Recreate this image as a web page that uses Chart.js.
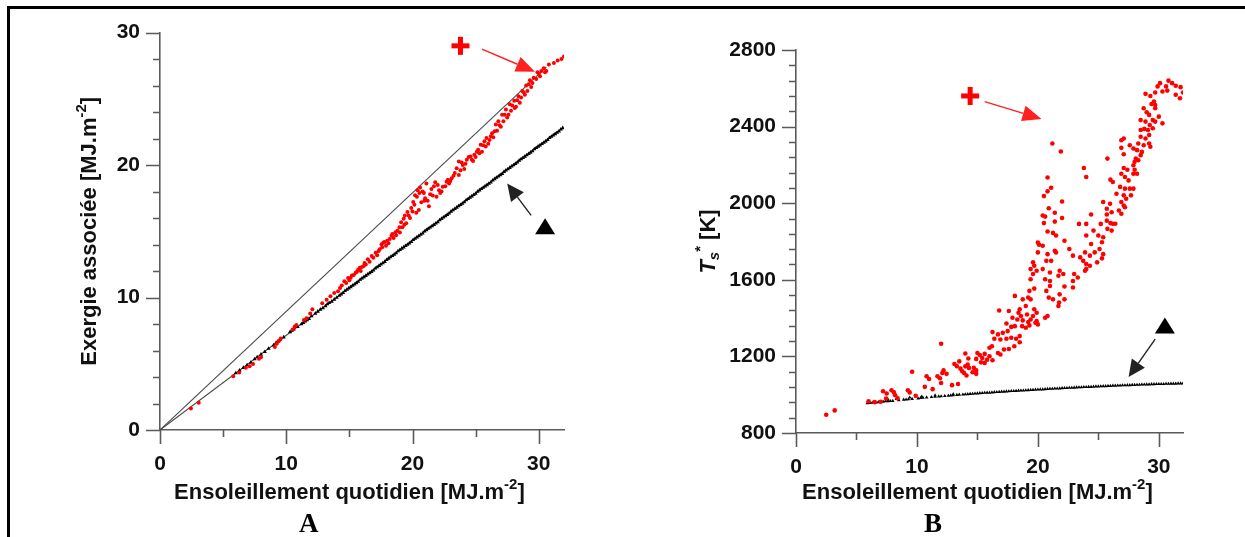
<!DOCTYPE html>
<html>
<head>
<meta charset="utf-8">
<script src="https://cdn.jsdelivr.net/npm/chart.js@4.4.0/dist/chart.umd.min.js"></script>
<style>
  html, body { margin: 0; padding: 0; background: #fff; }
  body { width: 1245px; height: 537px; position: relative; overflow: hidden; }
  #frame { position: absolute; left: 7px; top: 6px; width: 1250px; height: 540px;
           border-top: 3px solid #000; border-left: 3px solid #000; }
  .panel { position: absolute; top: 0; height: 537px; }
  #panelA { left: 0; width: 620px; }
  #panelB { left: 620px; width: 625px; }
  .letter { position: absolute; top: 508px; font: bold 27px "Liberation Serif", "Times New Roman", serif; color: #000; }
</style>
</head>
<body>
<div id="frame"></div>
<div class="panel" id="panelA"><canvas id="chartA"></canvas></div>
<div class="panel" id="panelB"><canvas id="chartB"></canvas></div>
<div class="letter" style="left:299px">A</div>
<div class="letter" style="left:924px">B</div>
<script>
// Panel A : associated exergy vs daily insolation
var exergyRed = [
    [2.45,1.63],[3.07,2.06],[5.8,4.05],[6.27,4.35],[6.8,4.69],[7.1,4.81],[7.37,4.99],[7.84,5.37],
    [8.0,5.5],[9.1,6.26],[9.25,6.52],[9.4,6.7],[9.56,6.9],[10.5,7.59],[10.66,7.79],[10.8,7.92],
    [11.4,8.3],[11.6,8.43],[11.9,8.8],[12.07,9.12],[12.85,9.57],[13.2,9.83],[13.5,10.1],[13.8,10.34],
    [14.1,10.47],[14.26,10.72],[14.6,11.23],[14.9,11.48],[15.0,11.3],[15.2,11.66],[15.5,11.87],
    [15.7,12.12],[15.83,12.25],[15.9,12.0],[16.14,12.38],[16.3,12.5],[16.46,12.89],[16.6,12.7],
    [16.77,13.14],[17.08,13.39],[17.2,13.2],[17.4,13.65],[17.55,14.03],[17.7,14.16],[17.9,13.9],
    [18.0,14.29],[18.2,14.41],[18.34,14.67],[18.5,14.5],[18.65,14.92],[18.8,15.05],[18.97,15.3],
    [19.0,14.9],[19.1,15.69],[19.3,15.94],[19.4,16.2],[19.5,15.6],[19.6,16.45],[19.8,16.0],
    [19.9,16.76],[20.06,17.21],[20.2,17.72],[20.3,16.4],[20.4,18.1],[20.5,16.6],[20.6,18.3],
    [20.7,17.2],[20.9,17.9],[21.0,17.5],[21.1,18.6],[21.2,17.3],[21.3,16.9],[21.5,18.2],[21.6,17.7],
    [21.8,18.7],[21.9,17.6],[22.1,18.1],[22.3,18.0],[22.4,18.36],[22.7,18.74],[22.9,18.6],[23.1,19.0],
    [23.35,19.4],[23.5,19.76],[23.67,20.27],[23.67,19.25],[23.98,20.0],[24.1,19.7],[24.3,20.4],
    [24.6,20.65],[24.8,20.3],[24.9,20.78],[25.2,21.16],[25.4,21.54],[25.5,21.0],[25.7,21.8],
    [25.86,22.05],[26.0,21.6],[26.2,22.18],[26.4,22.1],[26.5,22.56],[26.6,23.07],[26.8,23.3],
    [27.0,22.9],[27.1,23.8],[27.4,24.2],[27.6,23.8],[27.7,24.6],[28.06,24.85],[28.2,24.4],
    [28.4,25.2],[28.7,25.6],[28.9,25.3],[29.0,26.0],[29.3,26.4],[29.4,25.9],[29.6,26.6],
    [29.9,27.0],[30.1,26.7],[30.4,27.3],[30.6,27.1],[30.8,27.6],[31.2,27.7],[31.5,27.9],
    [31.8,28.0],[32.0,28.2],
    [14.4,10.9],[14.75,11.1],[15.1,11.5],[15.35,11.7],[15.6,11.95],[16.0,12.3],[16.2,12.6],
    [16.9,13.0],[17.3,13.5],[17.6,13.8],[17.8,14.2],[18.1,14.1],[18.4,14.8],[18.7,14.7],
    [19.2,15.3],[19.35,15.5],[19.7,16.2],[20.0,16.5],[20.15,17.0],[20.35,17.6],[20.55,17.9],
    [20.8,18.0],[20.95,17.3],[21.4,17.8],[21.7,18.4],[22.0,18.5],[22.2,17.9],[22.6,18.4],
    [22.8,18.9],[23.0,18.8],[23.25,19.2],[23.8,19.6],[23.9,20.2],[24.2,20.1],[24.45,20.6],
    [24.7,20.4],[25.0,20.6],[25.1,21.0],[25.3,20.9],[25.6,21.5],[25.8,21.4],[26.1,21.9],
    [26.3,22.4],[26.7,22.6],[26.9,23.0],[27.2,23.3],[27.3,23.8],[27.5,23.6],[27.8,24.1],
    [27.9,24.5],[28.1,24.3],[28.3,24.9],[28.5,24.7],[28.6,25.1],[28.8,25.5],[29.1,25.6],
    [29.2,26.1],[29.5,26.2],[29.8,26.5],[30.0,26.9],[30.2,27.1],[30.5,27.0]
];
var exergyBlack = [
    [6.0,4.3],[6.3,4.5],[6.6,4.7],[6.9,4.9],[7.2,5.1],[7.5,5.35],[7.7,5.5],[8.0,5.7],[8.3,5.9],
    [8.6,6.15],[9.0,6.4],[9.2,6.6],[9.35,6.7],[9.5,6.8],[9.8,7.0],[10.3,7.4],[10.45,7.5],[10.6,7.6],
    [10.9,7.8],[11.2,8.0],[11.35,8.1],[11.5,8.2],[11.65,8.3],[11.8,8.4],[12.0,8.6],[12.3,8.8],
    [12.5,8.95],[12.7,9.1],[12.9,9.2],[13.1,9.35],[13.25,9.5],[13.4,9.6],[13.6,9.7],[13.8,9.85],
    [14.0,10.0],[14.2,10.15],[14.35,10.25],[14.5,10.35],[14.65,10.5],[14.8,10.6],[14.95,10.7],
    [15.1,10.8],[15.25,10.9],[15.4,11.0],[15.55,11.1],[15.7,11.2],[15.85,11.35],[16.0,11.45],
    [16.15,11.55],[16.3,11.65],[16.45,11.75],[16.6,11.85],[16.75,11.95],[16.9,12.05],[17.05,12.2],
    [17.2,12.3],[17.35,12.4],[17.5,12.5],[17.65,12.6],[17.8,12.7],[17.95,12.85],[18.1,12.95],
    [18.25,13.05],[18.4,13.15],[18.55,13.25],[18.7,13.35],[18.85,13.5],[19.0,13.6],[19.15,13.7],
    [19.3,13.8],[19.45,13.9],[19.6,14.0],[19.75,14.1],[19.9,14.2],[20.05,14.35],[20.2,14.45],
    [20.35,14.55],[20.5,14.65],[20.65,14.75],[20.8,14.85],[20.95,15.0],[21.1,15.1],[21.25,15.2],
    [21.4,15.3],[21.55,15.4],[21.7,15.5],[21.85,15.6],[22.0,15.7],[22.15,15.85],[22.3,15.95],
    [22.45,16.05],[22.6,16.15],[22.75,16.25],[22.9,16.35],[23.05,16.5],[23.2,16.6],[23.35,16.7],
    [23.5,16.8],[23.65,16.9],[23.8,17.0],[23.95,17.1],[24.1,17.2],[24.25,17.35],[24.4,17.45],
    [24.55,17.55],[24.7,17.65],[24.85,17.75],[25.0,17.85],[25.15,18.0],[25.3,18.1],[25.45,18.2],
    [25.6,18.3],[25.75,18.4],[25.9,18.5],[26.05,18.6],[26.2,18.7],[26.35,18.85],[26.5,18.95],
    [26.65,19.05],[26.8,19.15],[26.95,19.25],[27.1,19.35],[27.25,19.5],[27.4,19.6],[27.55,19.7],
    [27.7,19.8],[27.85,19.9],[28.0,20.0],[28.15,20.1],[28.3,20.2],[28.45,20.35],[28.6,20.45],
    [28.75,20.55],[28.9,20.65],[29.05,20.75],[29.2,20.85],[29.35,20.95],[29.5,21.05],[29.65,21.2],
    [29.8,21.3],[29.95,21.4],[30.1,21.5],[30.25,21.6],[30.4,21.7],[30.55,21.8],[30.7,21.9],
    [30.85,22.05],[31.0,22.15],[31.15,22.25],[31.3,22.35],[31.45,22.45],[31.6,22.55],[31.75,22.7],
    [31.9,22.8]
];
// reference lines drawn from the origin
var upperLine = [[0,0],[30.6,27.4]];
var lowerLine = [[0,0],[31.9,22.8]];

// Panel B : equivalent temperature Ts* [K]
var tempRed = [
    [2.5,895],[3.2,918],[6.0,966],[6.5,961],[7.0,963],[7.2,1018],[7.5,1006],[7.9,1023],[8.1,1012],
    [8.2,997],[8.4,981],[7.45,980],[9.25,1023],[9.4,1012],[9.6,1120],[9.9,994],[10.65,1041],
    [10.8,1096],[11.0,1082],[11.3,1029],[11.7,1096],[11.9,1086],[12.0,1061],[12.0,1266],[12.2,1127],
    [12.1,1113],[12.45,1109],[12.9,1050],[13.1,1160],[13.3,1149],[13.4,1056],[13.5,1174],[13.6,1136],
    [13.75,1122],[13.9,1113],[14.0,1148],[14.0,1215],[14.1,1100],[14.2,1157],[14.25,1189],[14.3,1140],
    [14.6,1117],[14.7,1140],[14.9,1187],[14.9,1127],[14.9,1109],[15.0,1218],[15.2,1207],[15.3,1169],
    [15.4,1192],[15.6,1213],[15.6,1166],[15.8,1183],[16.0,1201],[16.0,1245],[16.2,1253],[16.25,1180],
    [16.25,1327],[16.4,1292],[16.7,1315],[16.7,1218],[16.8,1440],[16.9,1288],[16.9,1210],[17.1,1323],
    [17.2,1236],[17.4,1372],[17.4,1292],[17.5,1332],[17.6,1239],[17.6,1437],[17.8,1354],[17.8,1297],
    [17.9,1402],[18.05,1253],[18.1,1516],[18.1,1358],[18.2,1292],[18.3,1393],[18.4,1428],[18.5,1446],
    [18.5,1306],[18.5,1274],[18.6,1411],[18.7,1358],[18.75,1498],[18.75,1388],[19.0,1463],[19.0,1350],
    [19.1,1419],[19.2,1507],[19.2,1379],[19.3,1542],[19.3,1362],[19.4,1656],[19.4,1603],[19.4,1498],
    [19.4,1393],[19.6,1691],[19.6,1630],[19.6,1411],[19.7,1673],[19.7,1554],[19.7,1446],[19.8,1376],
    [19.9,1647],[19.9,1428],[19.9,1384],[20.0,1795],[20.0,1743],[20.0,1367],[20.1,1783],[20.4,1778],
    [20.4,1936],[20.4,1656],[20.5,2037],[20.5,1896],[20.6,1930],[20.6,1603],[20.6,1402],[20.7,1699],
    [20.7,1542],[20.8,2134],[20.8,2062],[20.8,1852],[20.8,1734],[20.8,1411],[20.9,1974],[20.9,1507],
    [21.0,1638],[21.0,1594],[21.0,1568],[21.1,2081],[21.1,1699],[21.2,2312],[21.25,1845],[21.25,1498],
    [21.4,1950],[21.4,1904],[21.4,1752],[21.5,1831],[21.5,1743],[21.7,1621],[21.7,1463],[21.75,1481],
    [21.8,1647],[21.8,1524],[21.9,2270],[22.0,2009],[22.0,1923],[22.1,1630],[22.2,1804],[22.2,1565],
    [22.2,1498],[22.6,1761],[22.9,1726],[22.9,1594],[22.9,1560],[23.0,1630],[23.3,1612],[23.4,1892],
    [23.5,1717],[23.75,1699],[23.8,2184],[23.9,1743],[23.9,1647],[24.0,2137],[24.0,1892],[24.0,1831],
    [24.0,1682],[24.0,1656],[24.3,1726],[24.3,1673],[24.4,1941],[24.4,1787],[24.6,1857],[24.7,1743],
    [24.9,1691],[25.0,1831],[25.1,1761],[25.2,1892],[25.3,1796],[25.3,1712],[25.4,2006],[25.4,1822],
    [25.4,1734],[25.7,1971],[25.7,1941],[25.7,1909],[25.75,2233],[25.75,1866],[26.0,2123],[26.0,1896],
    [25.97,1997],[26.1,1953],[26.1,1857],[26.2,2111],[26.2,1893],[26.4,1893],[26.5,2049],[26.7,1962],
    [26.8,2085],[26.9,2329],[26.9,2289],[26.9,2154],[26.9,2006],[26.9,1945],[27.1,2338],[27.1,2256],
    [27.1,2184],[27.1,2041],[27.1,1988],[27.2,2137],[27.2,2076],[27.2,1979],[27.3,2023],[27.4,2175],
    [27.5,2119],[27.6,2303],[27.6,2076],[27.7,2041],[27.9,2286],[27.9,2198],[27.9,2154],[27.9,2076],
    [28.0,2216],[28.0,2175],[28.1,2233],[28.2,2277],[28.2,2154],[28.3,2312],[28.3,2224],[28.5,2434],
    [28.5,2382],[28.5,2347],[28.5,2251],[28.6,2268],[28.75,2496],[28.75,2303],[28.8,2388],[28.9,2571],
    [28.9,2426],[28.9,2338],[29.0,2475],[29.1,2382],[29.2,2461],[29.2,2356],[29.2,2312],[29.25,2408],
    [29.3,2560],[29.3,2295],[29.4,2518],[29.5,2434],[29.5,2391],[29.6,2531],[29.7,2578],[29.7,2513],
    [29.7,2496],[29.7,2426],[29.9,2610],[30.0,2452],[30.1,2627],[30.3,2583],[30.3,2417],[30.6,2610],
    [30.7,2588],[30.8,2640],[31.1,2627],[31.4,2613],[31.4,2566],[31.75,2548],[31.8,2606],[32.0,2578]
];
var tempBlack = [
    [5.9,955],[6.1,957],[6.3,958],[6.6,960],[6.8,961],[7.0,962],[7.2,964],[7.4,966],[7.6,966],
    [7.6,975],[7.8,967],[8.0,968],[8.3,978],[8.5,971],[8.9,974],[9.1,975],[9.3,976],[9.4,985],
    [9.6,978],[10.1,981],[10.3,983],[10.4,990],[10.5,984],[10.8,986],[11.2,988],[11.5,990],
    [11.5,996],[11.8,991],[12.0,992],[12.3,994],[12.6,995],[12.8,996],[13.0,997],[13.0,1003],
    [13.3,999],[13.5,1000],[13.8,1001],[14.0,1002],[14.2,1003],[14.4,1004],[14.6,1005],[14.8,1006],
    [15.0,1007],[15.2,1008],[15.4,1009],[15.6,1010],[15.8,1011],[16.0,1011],[16.2,1012],[16.4,1013],
    [16.6,1014],[16.8,1015],[17.0,1016],[17.2,1016],[17.4,1017],[17.6,1018],[17.8,1019],[18.0,1019],
    [18.2,1020],[18.4,1021],[18.6,1022],[18.8,1022],[19.0,1023],[19.2,1024],[19.4,1025],[19.6,1025],
    [19.8,1026],[20.0,1027],[20.2,1028],[20.4,1028],[20.6,1029],[20.8,1030],[21.0,1031],[21.2,1031],
    [21.4,1032],[21.6,1032],[21.8,1033],[22.0,1034],[22.2,1035],[22.4,1035],[22.6,1036],[22.8,1036],
    [23.0,1037],[23.2,1038],[23.4,1039],[23.6,1039],[23.8,1040],[24.0,1040],[24.2,1041],[24.4,1041],
    [24.6,1042],[24.8,1043],[25.0,1043],[25.2,1044],[25.4,1045],[25.6,1045],[25.8,1046],[26.0,1046],
    [26.2,1047],[26.4,1047],[26.6,1048],[26.8,1048],[27.0,1049],[27.2,1049],[27.4,1050],[27.6,1050],
    [27.8,1051],[28.0,1051],[28.2,1052],[28.4,1052],[28.6,1053],[28.8,1053],[29.0,1054],[29.2,1054],
    [29.4,1055],[29.6,1055],[29.8,1056],[30.0,1056],[30.2,1056],[30.4,1056],[30.6,1057],[30.8,1057],
    [31.0,1058],[31.2,1058],[31.4,1058],[31.6,1059],[31.8,1059],[32.0,1059]
];

var xTickLabels = [0, 10, 20, 30];
var yTickLabelsA = [0, 10, 20, 30];
var yTickLabelsB = [800, 1200, 1600, 2000, 2400, 2800];

var AXIS_COLOR = '#5a5a5a';
var TEXT_COLOR = '#111';
var FONT = '"Liberation Sans", Arial, sans-serif';

function pts(list) {
    return list.map(function(p) { return {x: p[0], y: p[1]}; });
}

// draws a run of text pieces (normal / superscript / subscript), centred on 0
function drawRich(ctx, parts, size) {
    var widths = [], total = 0;
    parts.forEach(function(p) {
        var sz = (p.sup || p.sub) ? size * 0.68 : size;
        ctx.font = (p.italic ? 'italic ' : '') + 'bold ' + sz + 'px ' + FONT;
        var w = ctx.measureText(p.text).width;
        widths.push(w);
        total += w;
    });
    var x = -total / 2;
    parts.forEach(function(p, i) {
        var sz = (p.sup || p.sub) ? size * 0.68 : size;
        var dy = p.sup ? -size * 0.38 : (p.sub ? size * 0.28 : 0);
        ctx.font = (p.italic ? 'italic ' : '') + 'bold ' + sz + 'px ' + FONT;
        ctx.fillText(p.text, x, dy);
        x += widths[i];
    });
}

function arrow(ctx, x0, y0, x1, y1, color, head, half) {
    var a = Math.atan2(y1 - y0, x1 - x0);
    ctx.save();
    ctx.strokeStyle = color;
    ctx.fillStyle = color;
    ctx.lineWidth = 1.4;
    ctx.beginPath();
    ctx.moveTo(x0, y0);
    ctx.lineTo(x1 - head * Math.cos(a), y1 - head * Math.sin(a));
    ctx.stroke();
    ctx.translate(x1, y1);
    ctx.rotate(a);
    ctx.beginPath();
    ctx.moveTo(0, 0);
    ctx.lineTo(-head, -half);
    ctx.lineTo(-head, half);
    ctx.closePath();
    ctx.fill();
    ctx.restore();
}

// Ticks, axis titles and the +/triangle annotations
var panelDecor = {
    id: 'panelDecor',
    afterDraw: function(chart, args, opts) {
        var ctx = chart.ctx, xs = chart.scales.x, ys = chart.scales.y;
        var area = chart.chartArea;
        ctx.save();
        ctx.strokeStyle = AXIS_COLOR;
        ctx.lineWidth = 1.6;
        ctx.beginPath();
        for (var v = xs.min; v <= xs.max + 1e-9; v += opts.xMinor) {
            var px = Math.round(xs.getPixelForValue(v)) + 0.5;
            var len = (Math.abs(v % opts.xMajor) < 1e-6) ? 14 : 7;
            ctx.moveTo(px, area.bottom);
            ctx.lineTo(px, area.bottom + len);
        }
        for (var w = ys.min; w <= ys.max + 1e-9; w += opts.yMinor) {
            var py = Math.round(ys.getPixelForValue(w)) + 0.5;
            var l2 = (Math.abs((w - ys.min) % opts.yMajor) < 1e-6) ? 14 : 7;
            ctx.moveTo(area.left, py);
            ctx.lineTo(area.left - l2, py);
        }
        ctx.stroke();

        ctx.fillStyle = TEXT_COLOR;
        ctx.textBaseline = 'middle';
        ctx.textAlign = 'left';
        ctx.save();
        ctx.translate(xs.getPixelForValue(15), opts.xTitleY);
        drawRich(ctx, opts.xTitle, 22);
        ctx.restore();
        ctx.save();
        ctx.translate(opts.yTitleX, (area.top + area.bottom) / 2 + opts.yTitleShift);
        ctx.rotate(-Math.PI / 2);
        drawRich(ctx, opts.yTitle, 22);
        ctx.restore();

        // annotations placed with the chart's own scales
        var m = opts.marks;
        var pxp = xs.getPixelForValue(m.plus[0]), pyp = ys.getPixelForValue(m.plus[1]);
        ctx.fillStyle = '#ff0000';
        ctx.fillRect(pxp - 9, pyp - 2.5, 18, 5);
        ctx.fillRect(pxp - 2.5, pyp - 9, 5, 18);
        arrow(ctx, xs.getPixelForValue(m.redArrow[0][0]), ys.getPixelForValue(m.redArrow[0][1]),
              xs.getPixelForValue(m.redArrow[1][0]), ys.getPixelForValue(m.redArrow[1][1]), '#ff2020', 19, 8);
        var tx = xs.getPixelForValue(m.tri[0]), ty = ys.getPixelForValue(m.tri[1]);
        ctx.fillStyle = '#000';
        ctx.beginPath();
        ctx.moveTo(tx, ty - 9);
        ctx.lineTo(tx + 10, ty + 7);
        ctx.lineTo(tx - 10, ty + 7);
        ctx.closePath();
        ctx.fill();
        arrow(ctx, xs.getPixelForValue(m.blackArrow[0][0]), ys.getPixelForValue(m.blackArrow[0][1]),
              xs.getPixelForValue(m.blackArrow[1][0]), ys.getPixelForValue(m.blackArrow[1][1]), '#222', 17, 8);
        ctx.restore();
    }
};

function scatterChart(id, datasets, yMin, yMax, yStep, yLabels, pad, decor) {
    return new Chart(document.getElementById(id), {
        type: 'scatter',
        data: { datasets: datasets },
        options: {
            animation: false,
            responsive: true,
            maintainAspectRatio: false,
            events: [],
            layout: { padding: pad },
            plugins: { legend: { display: false }, tooltip: { enabled: false }, panelDecor: decor },
            scales: {
                x: {
                    type: 'linear', min: 0, max: 32,
                    afterFit: function(s) { s.height = 40; },
                    grid: { display: false, drawTicks: false },
                    border: { display: true, color: AXIS_COLOR, width: 1.6 },
                    ticks: {
                        stepSize: 10, includeBounds: false, padding: 22, color: TEXT_COLOR,
                        font: { family: FONT, size: 21, weight: 'bold' },
                        callback: function(v) { return xTickLabels.indexOf(v) >= 0 ? String(v) : ''; }
                    }
                },
                y: {
                    type: 'linear', min: yMin, max: yMax,
                    afterFit: function(s) { s.width = 90; },
                    grid: { display: false, drawTicks: false },
                    border: { display: true, color: AXIS_COLOR, width: 1.6 },
                    ticks: {
                        stepSize: yStep, includeBounds: false, padding: 20, color: TEXT_COLOR,
                        font: { family: FONT, size: 21, weight: 'bold' },
                        callback: function(v) { return yLabels.indexOf(v) >= 0 ? String(v) : ''; }
                    }
                }
            }
        },
        plugins: [panelDecor]
    });
}

scatterChart('chartA', [
    { data: pts(exergyRed), pointStyle: 'circle', pointRadius: 2.0, borderWidth: 0,
      backgroundColor: '#ff0000' },
    { data: pts(exergyBlack), pointStyle: 'triangle', pointRadius: 2.4, borderWidth: 0,
      backgroundColor: '#000' },
    { data: pts(upperLine), showLine: true, pointRadius: 0, borderColor: '#4a4a4a', borderWidth: 1.1 },
    { data: pts(lowerLine), showLine: true, pointRadius: 0, borderColor: '#4a4a4a', borderWidth: 1.1 }
], 0, 30, 10, yTickLabelsA, { left: 70, right: 56, top: 28, bottom: 67 }, {
    xMinor: 5, xMajor: 10, yMinor: 2, yMajor: 10,
    xTitleY: 493, yTitleX: 90, yTitleShift: 0,
    xTitle: [{ text: 'Ensoleillement quotidien [MJ.m' }, { text: '-2', sup: true }, { text: ']' }],
    yTitle: [{ text: 'Exergie associée [MJ.m' }, { text: '-2', sup: true }, { text: ']' }],
    marks: { plus: [23.8, 29.0], redArrow: [[25.5, 28.75], [29.7, 27.05]],
             tri: [30.5, 15.3], blackArrow: [[29.4, 16.2], [27.5, 18.6]] }
});

scatterChart('chartB', [
    { data: pts(tempRed), pointStyle: 'circle', pointRadius: 2.3, borderWidth: 0,
      backgroundColor: '#ff0000' },
    { data: pts(tempBlack), pointStyle: 'triangle', pointRadius: 2.1, borderWidth: 0,
      backgroundColor: '#000' }
], 800, 2800, 400, yTickLabelsB, { left: 86, right: 62, top: 50, bottom: 64 }, {
    xMinor: 5, xMajor: 10, yMinor: 80, yMajor: 400,
    xTitleY: 493, yTitleX: 89, yTitleShift: 0,
    xTitle: [{ text: 'Ensoleillement quotidien [MJ.m' }, { text: '-2', sup: true }, { text: ']' }],
    yTitle: [{ text: 'T', italic: true }, { text: 's', sub: true, italic: true },
             { text: '*', sup: true }, { text: ' [K]' }],
    marks: { plus: [14.4, 2560], redArrow: [[15.6, 2530], [20.3, 2440]],
             tri: [30.5, 1356], blackArrow: [[29.7, 1290], [27.5, 1092]] }
});
</script>
</body>
</html>
